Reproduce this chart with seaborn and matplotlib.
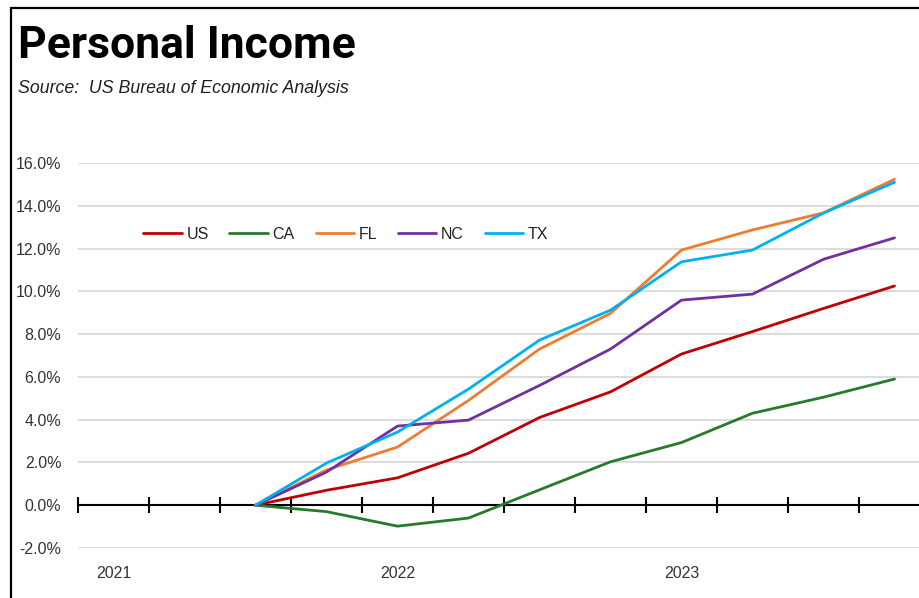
import numpy as np
import pandas as pd
import matplotlib
matplotlib.use("Agg")
import matplotlib.pyplot as plt
from matplotlib.patches import Rectangle
from matplotlib.ticker import FuncFormatter, FixedLocator
import seaborn as sns

# quarters 2021Q1 .. 2023Q4, cumulative % change since 2021Q3
quarters = ["2021Q1", "2021Q2", "2021Q3", "2021Q4",
            "2022Q1", "2022Q2", "2022Q3", "2022Q4",
            "2023Q1", "2023Q2", "2023Q3", "2023Q4"]
year_labels = ["2021", "2022", "2023"]

us = [np.nan, np.nan, 0.0, 0.70, 1.28, 2.43, 4.10, 5.30, 7.07, 8.12, 9.20, 10.25]
ca = [np.nan, np.nan, 0.0, -0.30, -0.98, -0.60, 0.72, 2.03, 2.93, 4.30, 5.05, 5.90]
fl = [np.nan, np.nan, 0.0, 1.65, 2.72, 4.90, 7.30, 8.97, 11.93, 12.87, 13.67, 15.24]
nc = [np.nan, np.nan, 0.0, 1.55, 3.70, 3.98, 5.60, 7.30, 9.59, 9.87, 11.50, 12.50]
tx = [np.nan, np.nan, 0.0, 1.97, 3.42, 5.43, 7.72, 9.12, 11.38, 11.93, 13.66, 15.10]

series = {"US": us, "CA": ca, "FL": fl, "NC": nc, "TX": tx}
colors = {"US": "#C00000", "CA": "#267A2A", "FL": "#ED7D31", "NC": "#7030A0", "TX": "#00B0F0"}

rows = []
for name, vals in series.items():
    for i, v in enumerate(vals):
        rows.append({"idx": i, "quarter": quarters[i], "state": name, "pct": v})
df = pd.DataFrame(rows).dropna()

sns.set_style("white")
plt.rcParams["font.family"] = ["Liberation Sans", "DejaVu Sans"]

fig = plt.figure(figsize=(9.2, 5.98), dpi=100)
ax = fig.add_axes([78 / 920, 1 - 548 / 598, 1 - 78 / 920, (548 - 163) / 598])

sns.lineplot(data=df, x="idx", y="pct", hue="state", palette=colors,
             hue_order=list(series.keys()), linewidth=2.0, ax=ax, legend=True)

ax.set_xlim(-0.5, (920 - 113.5) / 71)
ax.set_ylim(-2, 16)
ax.set_yticks(np.arange(-2, 17, 2))
ax.yaxis.set_major_formatter(FuncFormatter(lambda v, p: f"{v:.1f}%"))
ax.grid(axis="y", color="#D9D9D9", linewidth=1.3)
ax.grid(axis="x", visible=False)
ax.set_axisbelow(True)
ax.tick_params(axis="y", length=0, labelsize=11.5, labelcolor="#333333", pad=12)

for s in ["left", "right", "top"]:
    ax.spines[s].set_visible(False)
ax.spines["bottom"].set_position(("data", 0))
ax.spines["bottom"].set_color("black")
ax.spines["bottom"].set_linewidth(1.5)
ax.spines["bottom"].set_zorder(1.5)

ax.xaxis.set_major_locator(FixedLocator([0, 4, 8]))
ax.set_xticklabels(year_labels)
ax.xaxis.set_minor_locator(FixedLocator(np.arange(-0.5, 12, 1)))
ax.tick_params(axis="x", which="major", bottom=True, length=0, labelsize=11.5,
               labelcolor="#333333", pad=44)
ax.tick_params(axis="x", which="minor", bottom=True, length=11, width=1.5,
               direction="inout", color="black")
ax.set_xlabel("")
ax.set_ylabel("")

leg = ax.legend(loc="center", bbox_to_anchor=(0.318, 0.815), ncol=5, frameon=False,
                fontsize=11.5, handlelength=2.4, handletextpad=0.3, columnspacing=1.3)
for t in leg.get_texts():
    t.set_color("#222222")

fig.text(18 / 920, 1 - 58 / 598, "Personal Income", fontsize=32, fontweight="bold",
         family=["Roboto", "DejaVu Sans"], va="baseline", ha="left", color="black")
fig.text(18 / 920, 1 - 93 / 598, "Source:  US Bureau of Economic Analysis", fontsize=12.8,
         style="italic", va="baseline", ha="left", color="#202020")

fig.patches.append(Rectangle((11 / 920, -0.1), 2.0, 1 - 8 / 598 + 0.1, transform=fig.transFigure,
                             fill=False, edgecolor="black", linewidth=1.6, zorder=10))

fig.savefig("out.png", dpi=100)
